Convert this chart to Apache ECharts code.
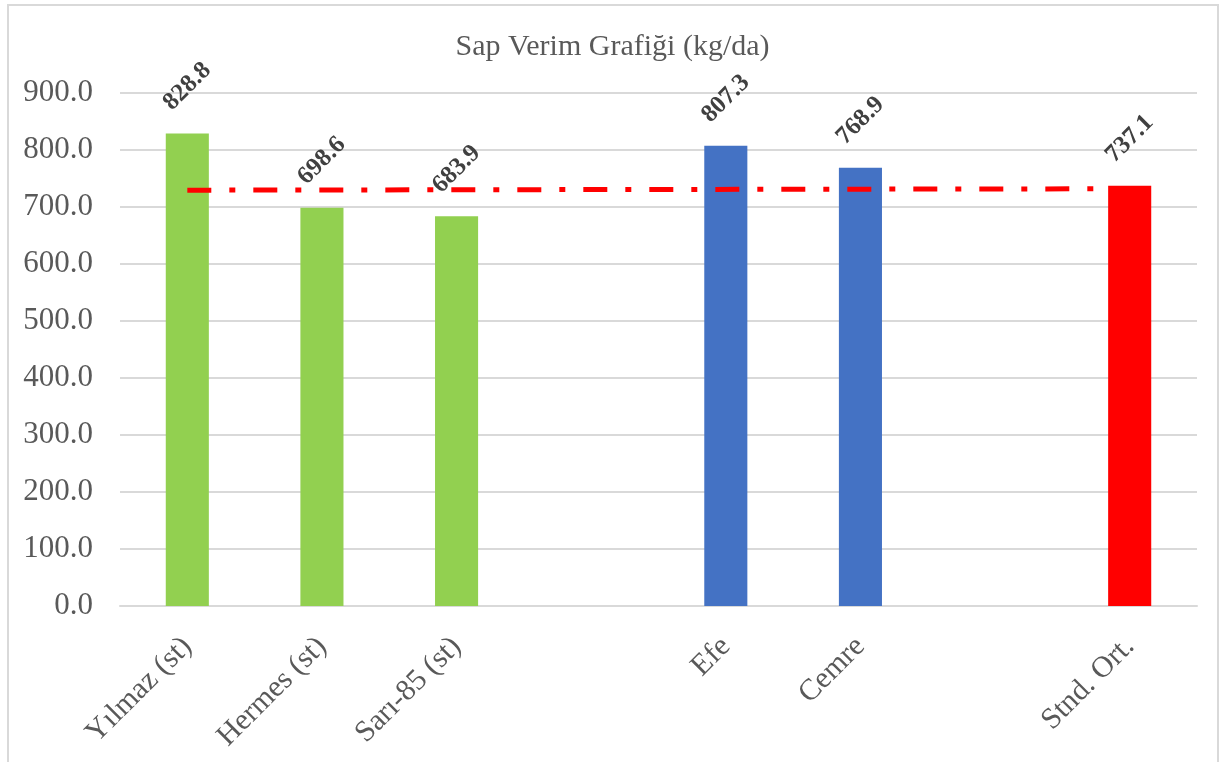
<!DOCTYPE html>
<html>
<head>
<meta charset="utf-8">
<script src="https://cdn.jsdelivr.net/npm/echarts@6/dist/echarts.min.js"></script>
<style>
html,body{margin:0;padding:0;background:#fff;}
#chart{width:1225px;height:762px;}
</style>
</head>
<body>
<div id="chart"></div>
<script>
const categories = ["Yılmaz (st)", "Hermes (st)", "Sarı-85 (st)", "", "Efe", "Cemre", "", "Stnd. Ort."];
const standardValues = [828.8, 698.6, 683.9, null, null, null, null, null];
const newValues = [null, null, null, null, 807.3, 768.9, null, null];
const averageValues = [null, null, null, null, null, null, null, 737.1];
const averageLine = [729.5, null, null, null, null, null, null, 732.0];
const yTicks = { min: 0, max: 900, interval: 100 };

const chart = echarts.init(document.getElementById('chart'), null, { renderer: 'canvas' });
const serif = '"Liberation Serif", "Times New Roman", serif';

const dataLabel = {
  show: true,
  position: 'top',
  distance: 47,
  rotate: 45,
  align: 'center',
  verticalAlign: 'middle',
  fontFamily: serif,
  fontSize: 25,
  fontWeight: 'bold',
  color: '#404040',
  formatter: p => p.value == null ? '' : Number(p.value).toFixed(1)
};

function barSeries(name, data, color) {
  return {
    name, type: 'bar', data, stack: 'all',
    barWidth: '32%',
    itemStyle: { color },
    label: dataLabel
  };
}

chart.setOption({
  animation: false,
  backgroundColor: '#ffffff',
  title: {
    text: 'Sap Verim Grafiği (kg/da)',
    left: 'center',
    top: 27,
    textStyle: { fontFamily: serif, fontSize: 30, fontWeight: 'normal', color: '#595959' }
  },
  graphic: [{
    type: 'rect',
    shape: { x: 8, y: 5, width: 1210, height: 800 },
    style: { fill: 'none', stroke: '#d9d9d9', lineWidth: 2 },
    silent: true
  }],
  grid: { left: 120, right: 28, top: 93, bottom: 156, containLabel: false },
  xAxis: {
    type: 'category',
    data: categories,
    axisLine: { lineStyle: { color: '#d9d9d9', width: 2 } },
    axisTick: { show: false },
    axisLabel: {
      interval: 0,
      rotate: 45,
      margin: 36,
      fontFamily: serif,
      fontSize: 30,
      color: '#595959'
    }
  },
  yAxis: {
    type: 'value',
    min: yTicks.min, max: yTicks.max, interval: yTicks.interval,
    axisLine: { show: false },
    axisTick: { show: false },
    splitLine: { lineStyle: { color: '#d9d9d9', width: 2 } },
    axisLabel: {
      margin: 27,
      fontFamily: serif,
      fontSize: 31,
      color: '#595959',
      formatter: v => v.toFixed(1)
    }
  },
  series: [
    barSeries('Standart', standardValues, '#92D050'),
    barSeries('Yeni', newValues, '#4472C4'),
    barSeries('Stnd. Ort.', averageValues, '#FF0000'),
    {
      name: 'Ortalama',
      type: 'line',
      data: averageLine,
      connectNulls: true,
      symbol: 'none',
      z: 5,
      lineStyle: { color: '#FF0000', width: 5, type: [24, 18, 6, 18], cap: 'butt' }
    }
  ]
});
</script>
</body>
</html>
